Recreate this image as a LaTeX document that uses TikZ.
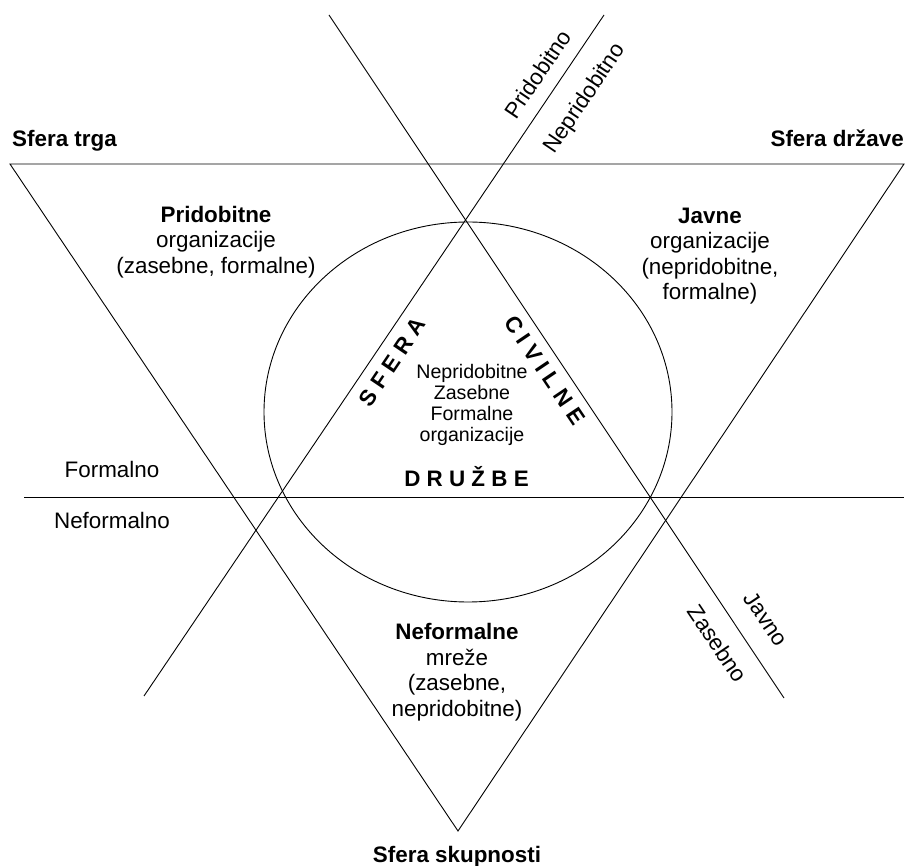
\documentclass[tikz,border=0pt]{standalone}
\usepackage{fontspec}
\setmainfont{Liberation Sans}
\usetikzlibrary{positioning}

\begin{document}
\begin{tikzpicture}[x=1pt, y=-1pt,
    every node/.style={inner sep=0pt, font=\fontsize{22.4}{25.5}\selectfont},
    line/.style={line width=0.9pt},
    sfera/.style={font=\fontsize{22.4}{25.5}\selectfont\bfseries},
    area/.style={align=center},
    inner/.style={align=center, font=\fontsize{19.6}{21}\selectfont},
    side/.style={font=\fontsize{22.4}{25.5}\selectfont},
]
\useasboundingbox (0,0) rectangle (914,866);

% Triangle corners
\coordinate (trga) at (10,164);
\coordinate (drzave) at (904,164);
\coordinate (skupnosti) at (458,831);

% Dividing lines
\coordinate (pridTop) at (604,15);
\coordinate (pridBot) at (144,696);
\coordinate (javTop) at (329,15);
\coordinate (javBot) at (784,698);
\coordinate (formL) at (24,497);
\coordinate (formR) at (904,497);

\draw[line] (trga) -- (drzave) -- (skupnosti) -- cycle;
\draw[line] (pridTop) -- (pridBot);
\draw[line] (javTop) -- (javBot);
\draw[line] (formL) -- (formR);

% Civil society circle
\draw[line] (468,412) ellipse [x radius=204, y radius=190];

% Spheres
\node[sfera, anchor=base west] (trgaLbl) at (12,147) {Sfera trga};
\node[sfera, anchor=base east] (drzaveLbl) at (904,147) {Sfera države};
\node[sfera, anchor=base] (skupLbl) at (457,862) {Sfera skupnosti};

% Sectors
\node[area] (pridobitne) at (216,242) {\textbf{Pridobitne}\\organizacije\\(zasebne, formalne)};
\node[area] (javne) at (710,256) {\textbf{Javne}\\organizacije\\(nepridobitne,\\formalne)};
\node[area] (neformalne) at (457,672) {\textbf{Neformalne}\\mreže\\(zasebne,\\nepridobitne)};
\node[inner] (civilna) at (472,405) {Nepridobitne\\Zasebne\\Formalne\\organizacije};

% Sphere of civil society
\node[sfera, rotate=56] (sferaLbl) at (392,362) {S F E R A};
\node[sfera, rotate=-56] (civilneLbl) at (545,370) {C I V I L N E};
\node[sfera, anchor=base] (druzbeLbl) at (466.5,487) {D R U Ž B E};

% Line labels
\node[side, rotate=56] (pridLbl) at (538,74) {Pridobitno};
\node[side, rotate=56] (nepridLbl) at (585,99) {Nepridobitno};
\node[side, rotate=-56] (javnoLbl) at (766,619) {Javno};
\node[side, rotate=-56] (zasebnoLbl) at (717.5,643.5) {Zasebno};
\node[side, anchor=base] (formLbl) at (112,478) {Formalno};
\node[side, anchor=base] (neformLbl) at (112,529) {Neformalno};
\end{tikzpicture}
\end{document}
